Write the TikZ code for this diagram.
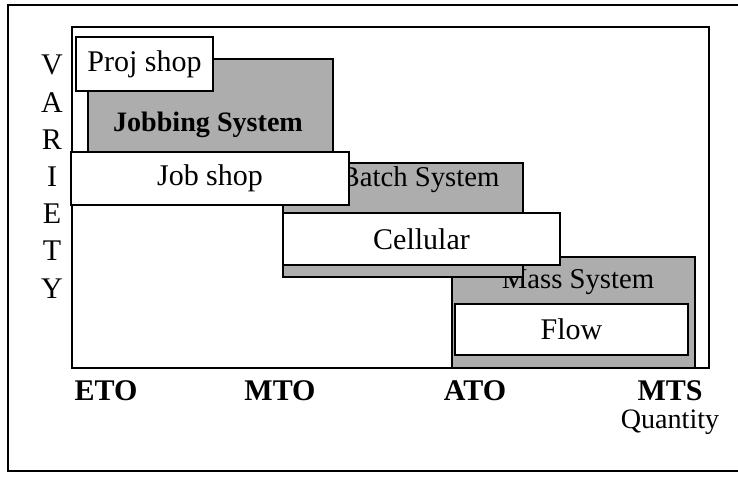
\documentclass[tikz,border=0pt]{standalone}
\usepackage{fontspec}
\setmainfont{Liberation Serif}
\usetikzlibrary{positioning}

\begin{document}
\begin{tikzpicture}[
        x=0.03cm, y=-0.03cm,
        every node/.style={
            font=\fontsize{25.6}{28}\selectfont,
            inner sep=0pt
        },
        whitebox/.style={
            draw,
            fill=white,
            line width=1.4pt
        },
        sysbox/.style={
            draw,
            fill=black!32,
            line width=1.2pt
        },
        systext/.style={
            font=\fontsize{24.5}{28}\selectfont
        },
        axislabel/.style={
            font=\fontsize{25.6}{28}\selectfont\bfseries
        }
    ]

    \useasboundingbox (0,0) rectangle (738,476);
    \clip (0,0) rectangle (738,476);

    % Frames
    \draw[line width=1.7pt] (8,5) rectangle (760,471);
    \draw[line width=1.7pt] (72,27) rectangle (709,368);

    % Mass system
    \node[sysbox, minimum width=7.29cm, minimum height=3.33cm] (mass) at (573.5,312.5) {};
    \node[systext] (masstxt) at (578,282) {Mass System};
    \node[whitebox, minimum width=6.99cm, minimum height=1.53cm] (flow) at (571.5,329.5) {Flow};

    % Batch system
    \node[sysbox, minimum width=7.2cm, minimum height=3.42cm] (batch) at (403,220) {};
    \node[systext] (batchtxt) at (420,180) {Batch System};
    \node[whitebox, minimum width=8.31cm, minimum height=1.56cm] (cellular) at (421.5,239) {Cellular};

    % Jobbing system
    \node[sysbox, minimum width=7.35cm, minimum height=3.03cm] (jobbing) at (210.5,109.5) {};
    \node[font=\fontsize{24}{28}\selectfont\bfseries] (jobbingtxt) at (208,125) {Jobbing System};
    \node[whitebox, minimum width=8.34cm, minimum height=1.59cm] (jobshop) at (210,178.5) {Job shop};
    \node[whitebox, minimum width=4.11cm, minimum height=1.62cm] (projshop) at (144.5,64) {Proj shop};

    % Variety axis
    \foreach \l [count=\i] in {V,A,R,I,E,T,Y}
        \node (var\i) at (52,{65+37.2*(\i-1)}) {\l};

    % Quantity axis
    \node[axislabel] (eto) at (106,391) {ETO};
    \node[axislabel] (mto) at (280,391) {MTO};
    \node[axislabel] (ato) at (475,391) {ATO};
    \node[axislabel] (mts) at (670,391) {MTS};
    \node[below=0.25cm of mts, font=\fontsize{24}{28}\selectfont] (quantity) {Quantity};

\end{tikzpicture}
\end{document}
